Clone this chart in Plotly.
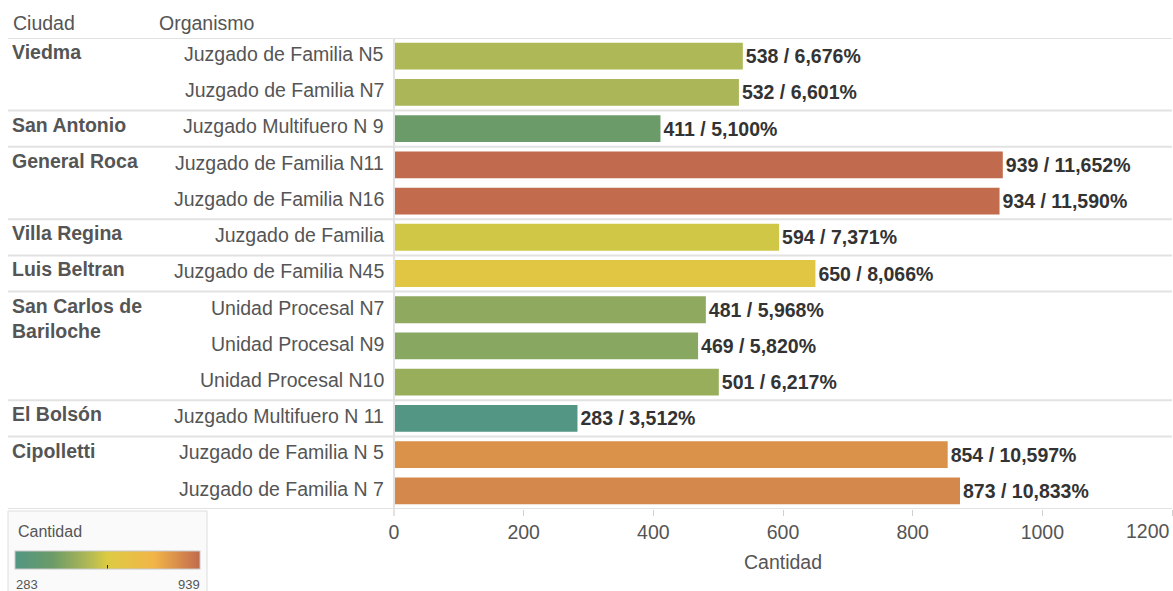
import plotly.graph_objects as go

# ---------------- data ----------------
ciudades = ["Viedma", "Viedma", "San Antonio", "General Roca", "General Roca",
            "Villa Regina", "Luis Beltran", "San Carlos de<br>Bariloche",
            "San Carlos de<br>Bariloche", "San Carlos de<br>Bariloche",
            "El Bolsón", "Cipolletti", "Cipolletti"]
organismos = ["Juzgado de Familia N5", "Juzgado de Familia N7", "Juzgado Multifuero N 9",
              "Juzgado de Familia N11", "Juzgado de Familia N16", "Juzgado de Familia",
              "Juzgado de Familia N45", "Unidad Procesal N7", "Unidad Procesal N9",
              "Unidad Procesal N10", "Juzgado Multifuero N 11", "Juzgado de Familia N 5",
              "Juzgado de Familia N 7"]
cantidad = [538, 532, 411, 939, 934, 594, 650, 481, 469, 501, 283, 854, 873]
porcentaje = ["6,676%", "6,601%", "5,100%", "11,652%", "11,590%", "7,371%", "8,066%",
              "5,968%", "5,820%", "6,217%", "3,512%", "10,597%", "10,833%"]
x_ticks = [0, 200, 400, 600, 800, 1000, 1200]

# ---------------- layout constants ----------------
W, H = 1173, 591
ML, MR, MT, MB = 394, 1, 38, 82
PW, PH = W - ML - MR, H - MT - MB
FONT = "Liberation Sans, Arial, sans-serif"
FS = 19.5
GREY = "#555555"


def px_x(px):
    return (px - ML) / PW


def px_y(py):
    return (H - MB - py) / PH


colorscale = [
    [0.0, "#529683"],
    [0.2, "#6B9B68"],
    [0.3, "#8EA95E"],
    [0.39, "#AEB856"],
    [0.5, "#DCCB42"],
    [0.75, "#F2B548"],
    [1.0, "#C16A4D"],
]
vmin, vmax = min(cantidad), max(cantidad)
rows = list(range(len(cantidad)))

fig = go.Figure()
fig.add_trace(go.Bar(
    x=cantidad,
    y=rows,
    orientation="h",
    width=0.74,
    marker=dict(
        color=cantidad, colorscale=colorscale, cmin=vmin, cmax=vmax,
        line=dict(width=0),
        showscale=True,
        colorbar=dict(
            orientation="h",
            xref="paper", yref="paper",
            x=px_x(15), y=px_y(574),
            xanchor="left", yanchor="bottom",
            lenmode="pixels", len=185,
            thickness=18,
            outlinewidth=1, outlinecolor="#c8c8c8",
            tickvals=[(vmin + vmax) / 2], ticktext=[""],
            ticks="inside", ticklen=4, tickcolor="#222", tickwidth=1,
            showticklabels=False,
            xpad=0, ypad=0,
        ),
    ),
    text=[f"{c} / {p}" for c, p in zip(cantidad, porcentaje)],
    textposition="outside",
    textfont=dict(family=FONT, size=FS, color="#333333", weight="bold"),
    cliponaxis=False,
    hoverinfo="skip",
))

shapes = []
annotations = []

# legend box
shapes.append(dict(type="rect", xref="paper", yref="paper",
                   x0=px_x(8), x1=px_x(207), y0=px_y(596), y1=px_y(511),
                   fillcolor="#fafafa", line=dict(color="#dddddd", width=1), layer="below"))
annotations.append(dict(xref="paper", yref="paper", x=px_x(16), y=px_y(531),
                        text="Cantidad", showarrow=False, xanchor="left", yanchor="middle",
                        font=dict(family=FONT, size=16, color=GREY)))
annotations.append(dict(xref="paper", yref="paper", x=px_x(14), y=px_y(584),
                        text=str(vmin), showarrow=False, xanchor="left", yanchor="middle",
                        font=dict(family=FONT, size=13, color=GREY)))
annotations.append(dict(xref="paper", yref="paper", x=px_x(202), y=px_y(584),
                        text=str(vmax), showarrow=False, xanchor="right", yanchor="middle",
                        font=dict(family=FONT, size=13, color=GREY)))

# headers
annotations.append(dict(xref="paper", yref="paper", x=px_x(11), y=px_y(23),
                        text="Ciudad", showarrow=False, xanchor="left", yanchor="middle",
                        font=dict(family=FONT, size=FS, color=GREY)))
annotations.append(dict(xref="paper", yref="paper", x=px_x(157), y=px_y(23),
                        text="Organismo", showarrow=False, xanchor="left", yanchor="middle",
                        font=dict(family=FONT, size=FS, color=GREY)))

# last tick label (right-aligned so it stays inside the page, as in the reference)
annotations.append(dict(xref="x", yref="paper", x=x_ticks[-1], y=px_y(531),
                        text=str(x_ticks[-1]), showarrow=False, xanchor="right",
                        yanchor="middle", font=dict(family=FONT, size=FS, color=GREY)))

# separators + city labels
line_style = dict(color="#e2e2e2", width=2)
shapes.append(dict(type="line", xref="paper", yref="y", x0=px_x(8), x1=1,
                   y0=-0.5, y1=-0.5, line=line_style))
prev = None
for i, (c, o) in enumerate(zip(ciudades, organismos)):
    if c != prev:
        if prev is not None:
            shapes.append(dict(type="line", xref="paper", yref="y", x0=px_x(8), x1=1,
                               y0=i - 0.5, y1=i - 0.5, line=line_style))
        annotations.append(dict(xref="paper", yref="y", x=px_x(10), y=i - 0.47,
                                text=f"<b>{c}</b>", showarrow=False, xanchor="left",
                                yanchor="top", align="left",
                                font=dict(family=FONT, size=FS, color=GREY)))
        prev = c
    annotations.append(dict(xref="paper", yref="y", x=px_x(386), y=i - 0.06,
                            text=o, showarrow=False, xanchor="right", yanchor="middle",
                            font=dict(family=FONT, size=FS, color=GREY)))
shapes.append(dict(type="line", xref="paper", yref="y", x0=px_x(8), x1=1,
                   y0=len(rows) - 0.5, y1=len(rows) - 0.5, line=line_style))
# vertical axis line
shapes.append(dict(type="line", xref="paper", yref="paper", x0=0, x1=0,
                   y0=px_y(516), y1=1, line=dict(color="#e2e2e2", width=2)))

fig.update_layout(
    width=W, height=H,
    margin=dict(l=ML, r=MR, t=MT, b=MB, autoexpand=False),
    paper_bgcolor="white", plot_bgcolor="white",
    showlegend=False,
    shapes=shapes,
    annotations=annotations,
    font=dict(family=FONT),
    xaxis=dict(
        range=[0, 1200], tickvals=x_ticks,
        ticktext=[str(t) for t in x_ticks[:-1]] + [""],
        showgrid=False, zeroline=False, showline=False,
        ticks="outside", ticklen=6, tickcolor="#d0d0d0", tickwidth=1,
        tickfont=dict(family=FONT, size=FS, color=GREY),
        title=dict(text="Cantidad", font=dict(family=FONT, size=FS, color=GREY), standoff=12),
    ),
    yaxis=dict(
        range=[len(rows) - 0.5, -0.5],
        showticklabels=False, showgrid=False, zeroline=False, showline=False, ticks="",
    ),
)

fig.write_html("out.html",
               config={"displayModeBar": False},
               post_script="document.body.style.margin='0';document.body.style.padding='0';"
                           "document.documentElement.style.overflow='hidden';")
